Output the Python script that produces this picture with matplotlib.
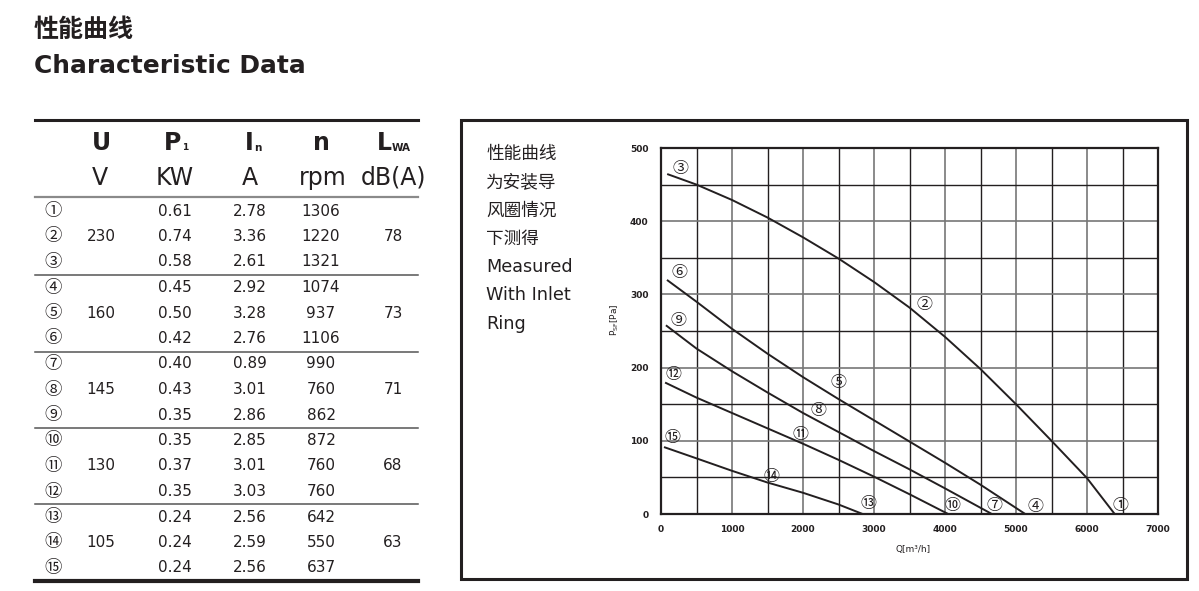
import numpy as np
import matplotlib.pyplot as plt
from matplotlib.patches import Rectangle

# ---- table data ----
row_marks = ['①', '②', '③', '④', '⑤', '⑥', '⑦', '⑧', '⑨', '⑩', '⑪', '⑫', '⑬', '⑭', '⑮']
voltage_v = [230, 160, 145, 130, 105]
power_kw = ['0.61', '0.74', '0.58', '0.45', '0.50', '0.42', '0.40', '0.43', '0.35',
            '0.35', '0.37', '0.35', '0.24', '0.24', '0.24']
current_a = ['2.78', '3.36', '2.61', '2.92', '3.28', '2.76', '0.89', '3.01', '2.86',
             '2.85', '3.01', '3.03', '2.56', '2.59', '2.56']
speed_rpm = [1306, 1220, 1321, 1074, 937, 1106, 990, 760, 862, 872, 760, 760, 642, 550, 637]
noise_dba = [78, 73, 71, 68, 63]

# ---- fan curves, Q [m3/h] vs pressure [Pa] ----
q_230 = [100, 500, 1000, 1500, 2000, 2500, 3000, 3500, 4000, 4500, 5000, 5500, 6000, 6390]
p_230 = [464, 450, 429, 405, 378, 349, 317, 282, 242, 198, 150, 100, 49, 0]
q_160 = [95, 500, 1000, 1500, 2000, 2500, 3000, 3500, 4000, 4500, 5130]
p_160 = [319, 290, 253, 219, 187, 157, 128, 99, 70, 40, 0]
q_145 = [80, 500, 1000, 1500, 2000, 2500, 3000, 3500, 4000, 4660]
p_145 = [257, 226, 195, 166, 138, 112, 86, 61, 35, 0]
q_130 = [70, 500, 1000, 1500, 2000, 2500, 3000, 3500, 4045]
p_130 = [179, 159, 138, 117, 96, 74, 51, 27, 0]
q_105 = [55, 500, 1000, 1500, 2000, 2500, 2840]
p_105 = [91, 76, 59, 43, 29, 13, 0]

curve_marks = ['③', '②', '①', '⑥', '⑤', '④', '⑨', '⑧', '⑦', '⑫', '⑪', '⑩', '⑮', '⑭', '⑬']
mark_q = [268, 3718, 6465, 254, 2493, 5268, 240, 2225, 4704, 183, 1958, 4099, 155, 1563, 2916]
mark_p = [472, 286, 12, 330, 179, 10, 264, 141, 11, 190, 108, 12, 104, 51, 15]

ink = '#231f20'
en = ['DejaVu Sans']
cjk = ['Noto Sans CJK SC', 'DejaVu Sans']

fig = plt.figure(figsize=(11.99, 5.91), dpi=100)

# overlay in pixel coordinates for the table and texts
lay = fig.add_axes([0, 0, 1, 1])
lay.set_xlim(0, 1199)
lay.set_ylim(591, 0)
lay.axis('off')

lay.text(34, 30, '性能曲线', family=cjk, fontsize=18, fontweight='bold', color=ink, va='center')
lay.text(34, 66, 'Characteristic Data', family=en, fontsize=17.9, fontweight='bold', color=ink, va='center')

# table rules
lay.plot([35, 418], [120, 120], color=ink, lw=2.2)
lay.plot([35, 418], [197, 197], color='#8a8a8a', lw=1.6)
for yy in [275, 351.5, 428, 504]:
    lay.plot([35, 418], [yy, yy], color='#555555', lw=1.1)
lay.plot([35, 418], [581, 581], color=ink, lw=3)

# header
hy1, hy2 = 143, 178
lay.text(101, hy1, 'U', family=en, fontsize=17, fontweight='bold', color=ink, ha='center', va='center')
lay.text(181, hy1, 'P', family=en, fontsize=17, fontweight='bold', color=ink, ha='right', va='center')
lay.text(182, hy1 + 5, '1', family=en, fontsize=6.5, fontweight='bold', color=ink, ha='left', va='center')
lay.text(254, hy1, 'I', family=en, fontsize=17, fontweight='bold', color=ink, ha='right', va='center')
lay.text(254, hy1 + 5, 'n', family=en, fontsize=7.5, fontweight='bold', color=ink, ha='left', va='center')
lay.text(321, hy1, 'n', family=en, fontsize=17, fontweight='bold', color=ink, ha='center', va='center')
lay.text(392, hy1, 'L', family=en, fontsize=17, fontweight='bold', color=ink, ha='right', va='center')
lay.text(392, hy1 + 5, 'WA', family=en, fontsize=7.5, fontweight='bold', color=ink, ha='left', va='center')
for xx, unit in zip([100, 175, 250, 323, 393], ['V', 'KW', 'A', 'rpm', 'dB(A)']):
    lay.text(xx, hy2, unit, family=en, fontsize=17, color=ink, ha='center', va='center')

# rows
for i in range(15):
    yy = 211 + i * 25.5
    lay.text(53, yy, row_marks[i], family=cjk, fontsize=12.5, color=ink, ha='center', va='center')
    lay.text(175, yy, power_kw[i], family=en, fontsize=11, color=ink, ha='center', va='center')
    lay.text(250, yy, current_a[i], family=en, fontsize=11, color=ink, ha='center', va='center')
    lay.text(321, yy, str(speed_rpm[i]), family=en, fontsize=11, color=ink, ha='center', va='center')
for g in range(5):
    yy = 211 + (3 * g + 1) * 25.5
    lay.text(101, yy, str(voltage_v[g]), family=en, fontsize=11, color=ink, ha='center', va='center')
    lay.text(393, yy, str(noise_dba[g]), family=en, fontsize=11, color=ink, ha='center', va='center')

# chart frame and side note
lay.add_patch(Rectangle((461, 120), 726, 459, fill=False, edgecolor=ink, lw=2.2))
note = ['性能曲线', '为安装导', '风圈情况', '下测得', 'Measured', 'With Inlet', 'Ring']
for i, line in enumerate(note):
    fam = cjk if i < 4 else en
    lay.text(486, 154 + i * 28.3, line, family=fam, fontsize=12.7, color=ink, va='center')

# ---- the chart ----
ax = fig.add_axes([661 / 1199, 77 / 591, 497 / 1199, 366 / 591])
for q, p in [(q_230, p_230), (q_160, p_160), (q_145, p_145), (q_130, p_130), (q_105, p_105)]:
    ax.plot(q, p, color=ink, lw=1.4, zorder=3)
for m, q, p in zip(curve_marks, mark_q, mark_p):
    ax.text(q, p, m, family=cjk, fontsize=11.5, color=ink, ha='center', va='center', zorder=4)

ax.set_xlim(0, 7000)
ax.set_ylim(0, 500)
ax.set_xticks(np.arange(0, 7001, 1000))
ax.set_yticks(np.arange(0, 501, 100))
ax.set_xticks(np.arange(500, 7000, 1000), minor=True)
ax.set_yticks(np.arange(50, 500, 100), minor=True)
ax.grid(True, which='major', color='#777777', lw=1.2)
ax.grid(True, which='minor', color=ink, lw=1.0)
ax.tick_params(which='both', length=0)
ax.tick_params(axis='x', pad=8)
ax.tick_params(axis='y', pad=9)
for lab in ax.get_xticklabels() + ax.get_yticklabels():
    lab.set_family(en)
    lab.set_fontsize(6.5)
    lab.set_fontweight('bold')
    lab.set_color(ink)
for s in ax.spines.values():
    s.set_linewidth(1.6)
    s.set_color(ink)
ax.set_xlabel('Q[m³/h]', family=en, fontsize=6.5, color=ink)
ax.xaxis.set_label_coords(0.508, -0.085)
ax.set_ylabel('P$_{\\mathregular{SF}}$[Pa]', family=en, fontsize=6.5, color=ink)
ax.yaxis.set_label_coords(-0.08, 0.53)

fig.savefig('out.png', dpi=100)
